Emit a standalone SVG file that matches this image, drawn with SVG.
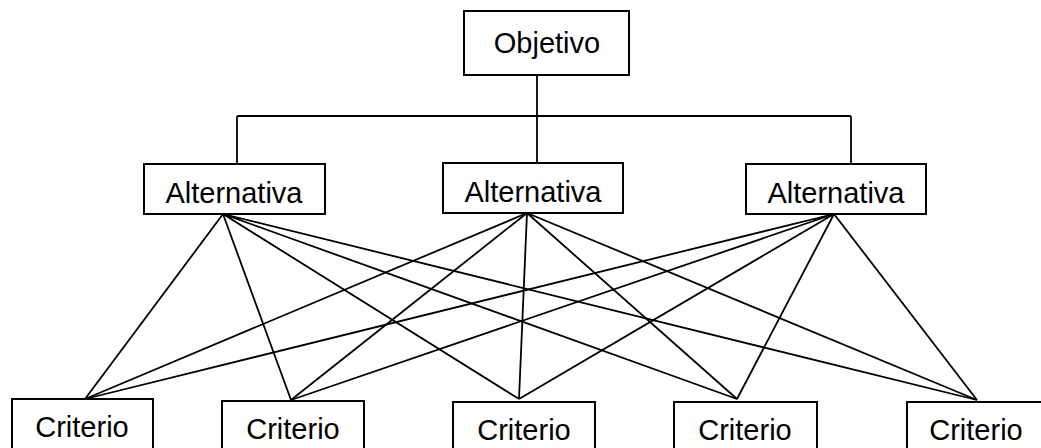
<svg xmlns="http://www.w3.org/2000/svg" width="1041" height="448" viewBox="0 0 1041 448">
<style>
.box{fill:#fff;stroke:#000;stroke-width:2}
.lbl{font-family:"Liberation Sans",Arial,sans-serif;font-size:29px;fill:#000;text-anchor:middle}
.cn{stroke:#000;stroke-width:1.8;fill:none}
</style>
<rect width="1041" height="448" fill="#fff"/>
<g id="connectors">
<path class="cn" d="M537 75V116M237 116H851M237 116V164M537 116V163M851 116V164"/>
<path class="cn" d="M223 214L85 399M223 214L291 400M223 214L519 399M223 214L737 399M223 214L977 400"/>
<path class="cn" d="M527 213L85 399M527 213L291 400M527 213L519 399M527 213L737 399M527 213L977 400"/>
<path class="cn" d="M834 214L85 399M834 214L291 400M834 214L519 399M834 214L737 399M834 214L977 400"/>
</g>
<g id="objetivo"><rect class="box" x="464" y="11" width="165" height="64"/><text class="lbl" x="547" y="53">Objetivo</text></g>
<g id="alt1"><rect class="box" x="144" y="164" width="181" height="50"/><text class="lbl" x="234" y="203">Alternativa</text></g>
<g id="alt2"><rect class="box" x="443" y="163" width="180" height="50"/><text class="lbl" x="533" y="202">Alternativa</text></g>
<g id="alt3"><rect class="box" x="746" y="164" width="180" height="50"/><text class="lbl" x="836" y="203">Alternativa</text></g>
<g id="crit1"><rect class="box" x="12" y="399" width="141" height="60"/><text class="lbl" x="82" y="437">Criterio</text></g>
<g id="crit2"><rect class="box" x="222" y="401" width="142" height="60"/><text class="lbl" x="293" y="439">Criterio</text></g>
<g id="crit3"><rect class="box" x="453" y="402" width="142" height="60"/><text class="lbl" x="524" y="440">Criterio</text></g>
<g id="crit4"><rect class="box" x="674" y="402" width="143" height="60"/><text class="lbl" x="745" y="440">Criterio</text></g>
<g id="crit5"><rect class="box" x="907" y="402" width="140" height="60"/><text class="lbl" x="976" y="440">Criterio</text></g>
</svg>
